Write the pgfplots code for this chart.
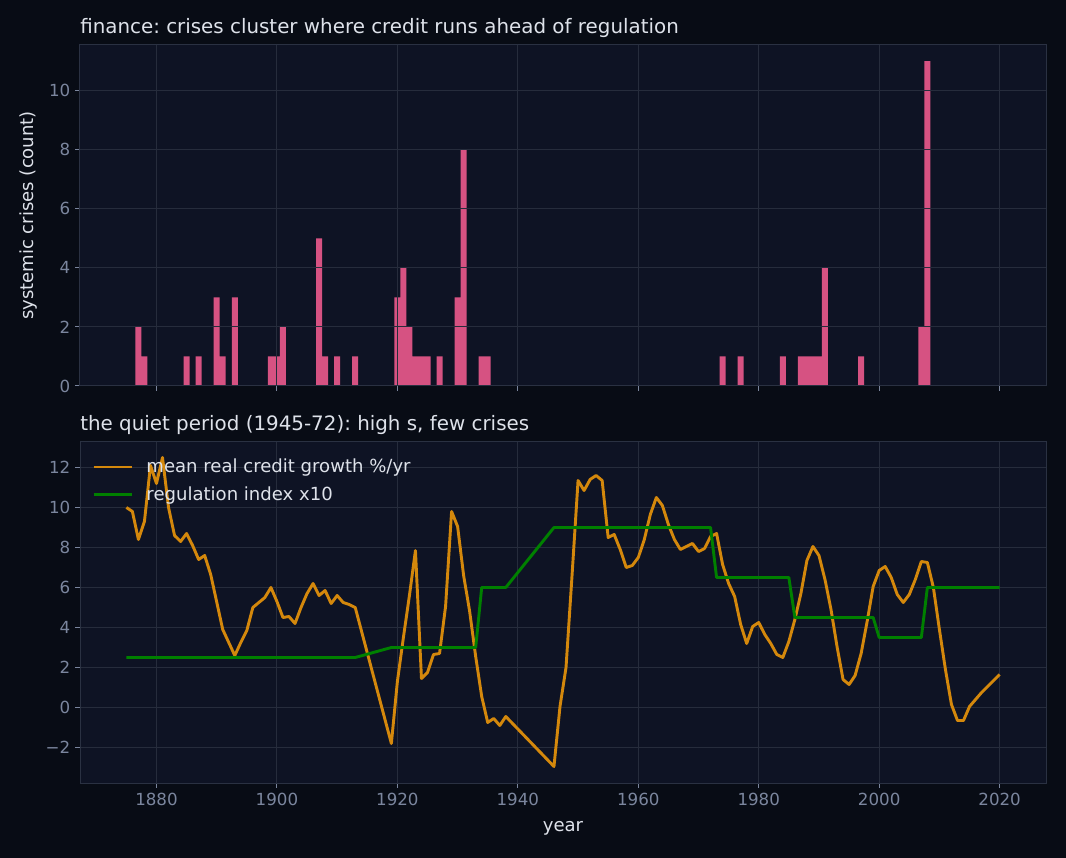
\documentclass[border=0pt]{standalone}
\usepackage{fontspec}
\setmainfont{DejaVu Sans}
\usepackage{pgfplots}
\pgfplotsset{compat=1.18}
\frenchspacing

\definecolor{figbg}{RGB}{8,12,21}
\definecolor{axbg}{RGB}{14,19,36}
\definecolor{gridcol}{RGB}{38,44,60}
\definecolor{spinecol}{RGB}{42,49,66}
\definecolor{tickcol}{RGB}{123,134,158}
\definecolor{textcol}{RGB}{222,226,234}
\definecolor{barcol}{RGB}{214,82,130}
\definecolor{credit}{RGB}{212,136,12}
\definecolor{regul}{RGB}{0,128,0}

\pgfplotsset{
  darkax/.style={
    scale only axis,
    width=695.52pt, height=245.52pt,
    xmin=1867.3, xmax=2027.7,
    axis background/.style={fill=axbg},
    axis line style={draw=spinecol, line width=0.72pt},
    grid=major,
    grid style={draw=gridcol, line width=0.72pt},
    tick align=outside,
    xtick pos=bottom, ytick pos=left,
    major tick length=3.5pt,
    major tick style={draw=tickcol, line width=0.72pt},
    xtick={1880,1900,1920,1940,1960,1980,2000,2020},
    tick label style={font=\fontsize{12}{14}\selectfont, text=tickcol,
      /pgf/number format/assume math mode=true,
      /pgf/number format/1000 sep={}},
    title style={at={(axis description cs:0,1.008)}, anchor=base west,
      font=\fontsize{14.3}{16}\selectfont, text=textcol, inner sep=0pt},
    label style={font=\fontsize{13}{15}\selectfont, text=textcol},
  },
}

\begin{document}
\begin{tikzpicture}
\fill[figbg] (0,0) rectangle (767.52pt,617.76pt);

% top panel: crisis counts per year
\begin{axis}[darkax,
    at={(57.6pt,339.84pt)}, anchor=south west,
    axis on top,
    ymin=0, ymax=11.55,
    ytick={0,2,4,6,8,10},
    xticklabels={},
    ybar, bar width=1, bar shift=0pt,
    title={finance: crises cluster where credit runs ahead of regulation},
    ylabel={systemic crises (count)},
    ylabel style={at={(axis description cs:-0.0538,0.5)}, anchor=center},
]
\addplot[fill=barcol, draw=none] coordinates {
 (1877,2) (1878,1) (1885,1) (1887,1) (1890,3) (1891,1) (1893,3)
 (1899,1) (1900,1) (1901,2) (1907,5) (1908,1) (1910,1) (1913,1)
 (1920,3) (1921,4) (1922,2) (1923,1) (1924,1) (1925,1) (1927,1)
 (1930,3) (1931,8) (1934,1) (1935,1)
 (1974,1) (1977,1) (1984,1) (1987,1) (1988,1) (1989,1) (1990,1)
 (1991,4) (1997,1) (2007,2) (2008,11)
};
\end{axis}

% bottom panel: credit growth vs regulation
\begin{axis}[darkax,
    at={(57.6pt,54pt)}, anchor=south west,
    ymin=-3.775, ymax=13.275,
    ytick={-2,0,2,4,6,8,10,12},
    yticklabels={−2,0,2,4,6,8,10,12},
    title={the quiet period (1945-72): high s, few crises},
    xlabel={year},
    xlabel style={at={(axis description cs:0.5,-0.132)}, anchor=center},
    legend style={at={(axis description cs:0.008,0.967)}, anchor=north west,
      draw=none, fill=none, text=textcol,
      font=\fontsize{13}{15}\selectfont, row sep=4.5pt},
    legend cell align=left,
    legend image code/.code={\draw[#1] (0pt,0pt) -- (27.4pt,0pt); \path (35pt,0pt);},
]
\addplot[credit, line width=2.1pt, line join=round] coordinates {
 (1875,10.0) (1876,9.8) (1877,8.4) (1878,9.3) (1879,12.1) (1880,11.2)
 (1881,12.5) (1882,10.0) (1883,8.6) (1884,8.3) (1885,8.7) (1886,8.1)
 (1887,7.4) (1888,7.6) (1889,6.65) (1891,3.9) (1892,3.25) (1893,2.6)
 (1894,3.25) (1895,3.85) (1896,5.0) (1897,5.25) (1898,5.5) (1899,6.0)
 (1900,5.3) (1901,4.5) (1902,4.55) (1903,4.2) (1904,5.0) (1905,5.7)
 (1906,6.2) (1907,5.6) (1908,5.85) (1909,5.2) (1910,5.6) (1911,5.25)
 (1912,5.15) (1913,5.0) (1919,-1.8) (1920,1.3) (1921,3.5) (1922,5.6)
 (1923,7.85) (1924,1.45) (1925,1.75) (1926,2.65) (1927,2.7) (1928,5.05)
 (1929,9.8) (1930,9.05) (1931,6.6) (1932,4.8) (1933,2.55) (1934,0.55)
 (1935,-0.75) (1936,-0.55) (1937,-0.9) (1938,-0.45) (1946,-2.95)
 (1947,0.05) (1948,2.0) (1949,6.6) (1950,11.35) (1951,10.85) (1952,11.4)
 (1953,11.6) (1954,11.35) (1955,8.5) (1956,8.65) (1957,7.9) (1958,7.0)
 (1959,7.1) (1960,7.5) (1961,8.4) (1962,9.65) (1963,10.5) (1964,10.1)
 (1965,9.15) (1966,8.4) (1967,7.9) (1968,8.05) (1969,8.2) (1970,7.8)
 (1971,7.95) (1972,8.55) (1973,8.7) (1974,7.15) (1975,6.2) (1976,5.55)
 (1977,4.15) (1978,3.2) (1979,4.05) (1980,4.25) (1981,3.65) (1982,3.2)
 (1983,2.65) (1984,2.5) (1985,3.3) (1986,4.4) (1987,5.7) (1988,7.35)
 (1989,8.05) (1990,7.6) (1991,6.4) (1992,4.9) (1993,3.05) (1994,1.4)
 (1995,1.15) (1996,1.6) (1997,2.7) (1998,4.3) (1999,6.05) (2000,6.85)
 (2001,7.05) (2002,6.5) (2003,5.65) (2004,5.25) (2005,5.65) (2006,6.4)
 (2007,7.3) (2008,7.25) (2009,6.0) (2010,3.9) (2011,1.9) (2012,0.15)
 (2013,-0.65) (2014,-0.65) (2015,0.05) (2016,0.4) (2017,0.75)
 (2018,1.05) (2019,1.35) (2020,1.65)
};
\addlegendentry{mean real credit growth \%/yr}
\addplot[regul, line width=2.1pt, line join=round] coordinates {
 (1875,2.5) (1913,2.5) (1919,3.0) (1933,3.0) (1934,6.0) (1938,6.0)
 (1946,9.0) (1972,9.0) (1973,6.5) (1985,6.5) (1986,4.5) (1999,4.5)
 (2000,3.5) (2007,3.5) (2008,6.0) (2020,6.0)
};
\addlegendentry{regulation index x10}
\end{axis}
\end{tikzpicture}
\end{document}
